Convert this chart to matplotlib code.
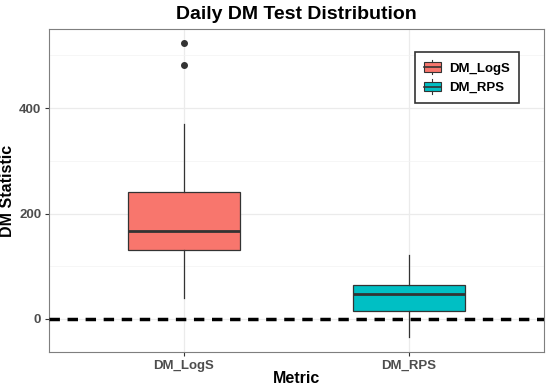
import matplotlib.pyplot as plt
from matplotlib.patches import Patch, Rectangle
from matplotlib.lines import Line2D
from matplotlib.legend_handler import HandlerBase

metrics = ['DM_LogS', 'DM_RPS']
colors = ['#F8766D', '#00BFC4']
whislo = [39, -35]
q1 = [130, 15]
med = [167, 47]
q3 = [241, 64]
whishi = [370, 122]
fliers = [[482, 523], []]

plt.rcParams['font.family'] = ['Liberation Sans', 'DejaVu Sans']


class BoxKey(HandlerBase):
    # small boxplot glyph for the legend keys
    def create_artists(self, legend, orig_handle, xdescent, ydescent,
                       width, height, fontsize, trans):
        x0, y0 = -xdescent, -ydescent
        xm = x0 + width / 2
        ec = '#333333'
        rect = Rectangle((x0, y0 + height * 0.08), width, height * 0.84,
                         facecolor=orig_handle.get_facecolor(), edgecolor=ec,
                         linewidth=0.8, transform=trans)
        med_line = Line2D([x0, x0 + width], [y0 + height / 2] * 2, color=ec,
                          linewidth=1.2, transform=trans)
        w_top = Line2D([xm, xm], [y0 + height * 0.92, y0 + height * 1.12],
                       color=ec, linewidth=0.8, transform=trans)
        w_bot = Line2D([xm, xm], [y0 - height * 0.12, y0 + height * 0.08],
                       color=ec, linewidth=0.8, transform=trans)
        return [rect, med_line, w_top, w_bot]


fig, ax = plt.subplots(figsize=(5.5, 3.88), dpi=100)
fig.subplots_adjust(left=0.089, right=0.9885, top=0.925, bottom=0.0928)

stats = []
for i, m in enumerate(metrics):
    stats.append({'label': m, 'whislo': whislo[i], 'q1': q1[i], 'med': med[i],
                  'q3': q3[i], 'whishi': whishi[i], 'fliers': fliers[i]})

bp = ax.bxp(stats, positions=[1, 2], widths=0.5, patch_artist=True,
            showcaps=False,
            boxprops=dict(edgecolor='#333333', linewidth=0.9),
            medianprops=dict(color='#333333', linewidth=2.0),
            whiskerprops=dict(color='#333333', linewidth=0.9),
            flierprops=dict(marker='o', markerfacecolor='#333333',
                            markeredgecolor='#333333', markersize=4),
            zorder=3)
for patch, c in zip(bp['boxes'], colors):
    patch.set_facecolor(c)

ax.axhline(0, color='black', linestyle=(0, (3, 2.2)), linewidth=2.5, zorder=4)

ax.set_xlim(0.4, 2.6)
ax.set_ylim(-62.6, 550)
ax.set_yticks([0, 200, 400])
ax.set_yticks([100, 300, 500], minor=True)
ax.grid(which='major', color='#EBEBEB', linewidth=0.9)
ax.grid(which='minor', axis='y', color='#F3F3F3', linewidth=0.5)
ax.set_axisbelow(True)
ax.tick_params(which='minor', length=0)
ax.tick_params(which='major', length=3, color='#333333', labelsize=9.5,
               labelcolor='#4D4D4D', pad=2.5)
for lab in ax.get_xticklabels() + ax.get_yticklabels():
    lab.set_fontweight('bold')
for s in ax.spines.values():
    s.set_color('#7F7F7F')

ax.set_title('Daily DM Test Distribution', fontsize=14, fontweight='bold', pad=7)
ax.set_xlabel('Metric', fontsize=11.5, fontweight='bold')
ax.set_ylabel('DM Statistic', fontsize=11.5, fontweight='bold')
ax.xaxis.set_label_coords(0.5, -0.060)
ax.yaxis.set_label_coords(-0.069, 0.5)

handles = [Patch(facecolor=c, edgecolor='#333333', label=m) for m, c in zip(metrics, colors)]
leg = ax.legend(handles=handles, loc='upper right', bbox_to_anchor=(0.95, 0.929),
                handler_map={Patch: BoxKey()},
                fancybox=False, framealpha=1, edgecolor='#333333',
                prop=dict(weight='bold', size=9.5), handlelength=1.3,
                handleheight=1.0, handletextpad=0.6, borderpad=0.7,
                labelspacing=0.45, borderaxespad=0)
leg.get_frame().set_linewidth(1.2)

fig.savefig('out.png', dpi=100)
